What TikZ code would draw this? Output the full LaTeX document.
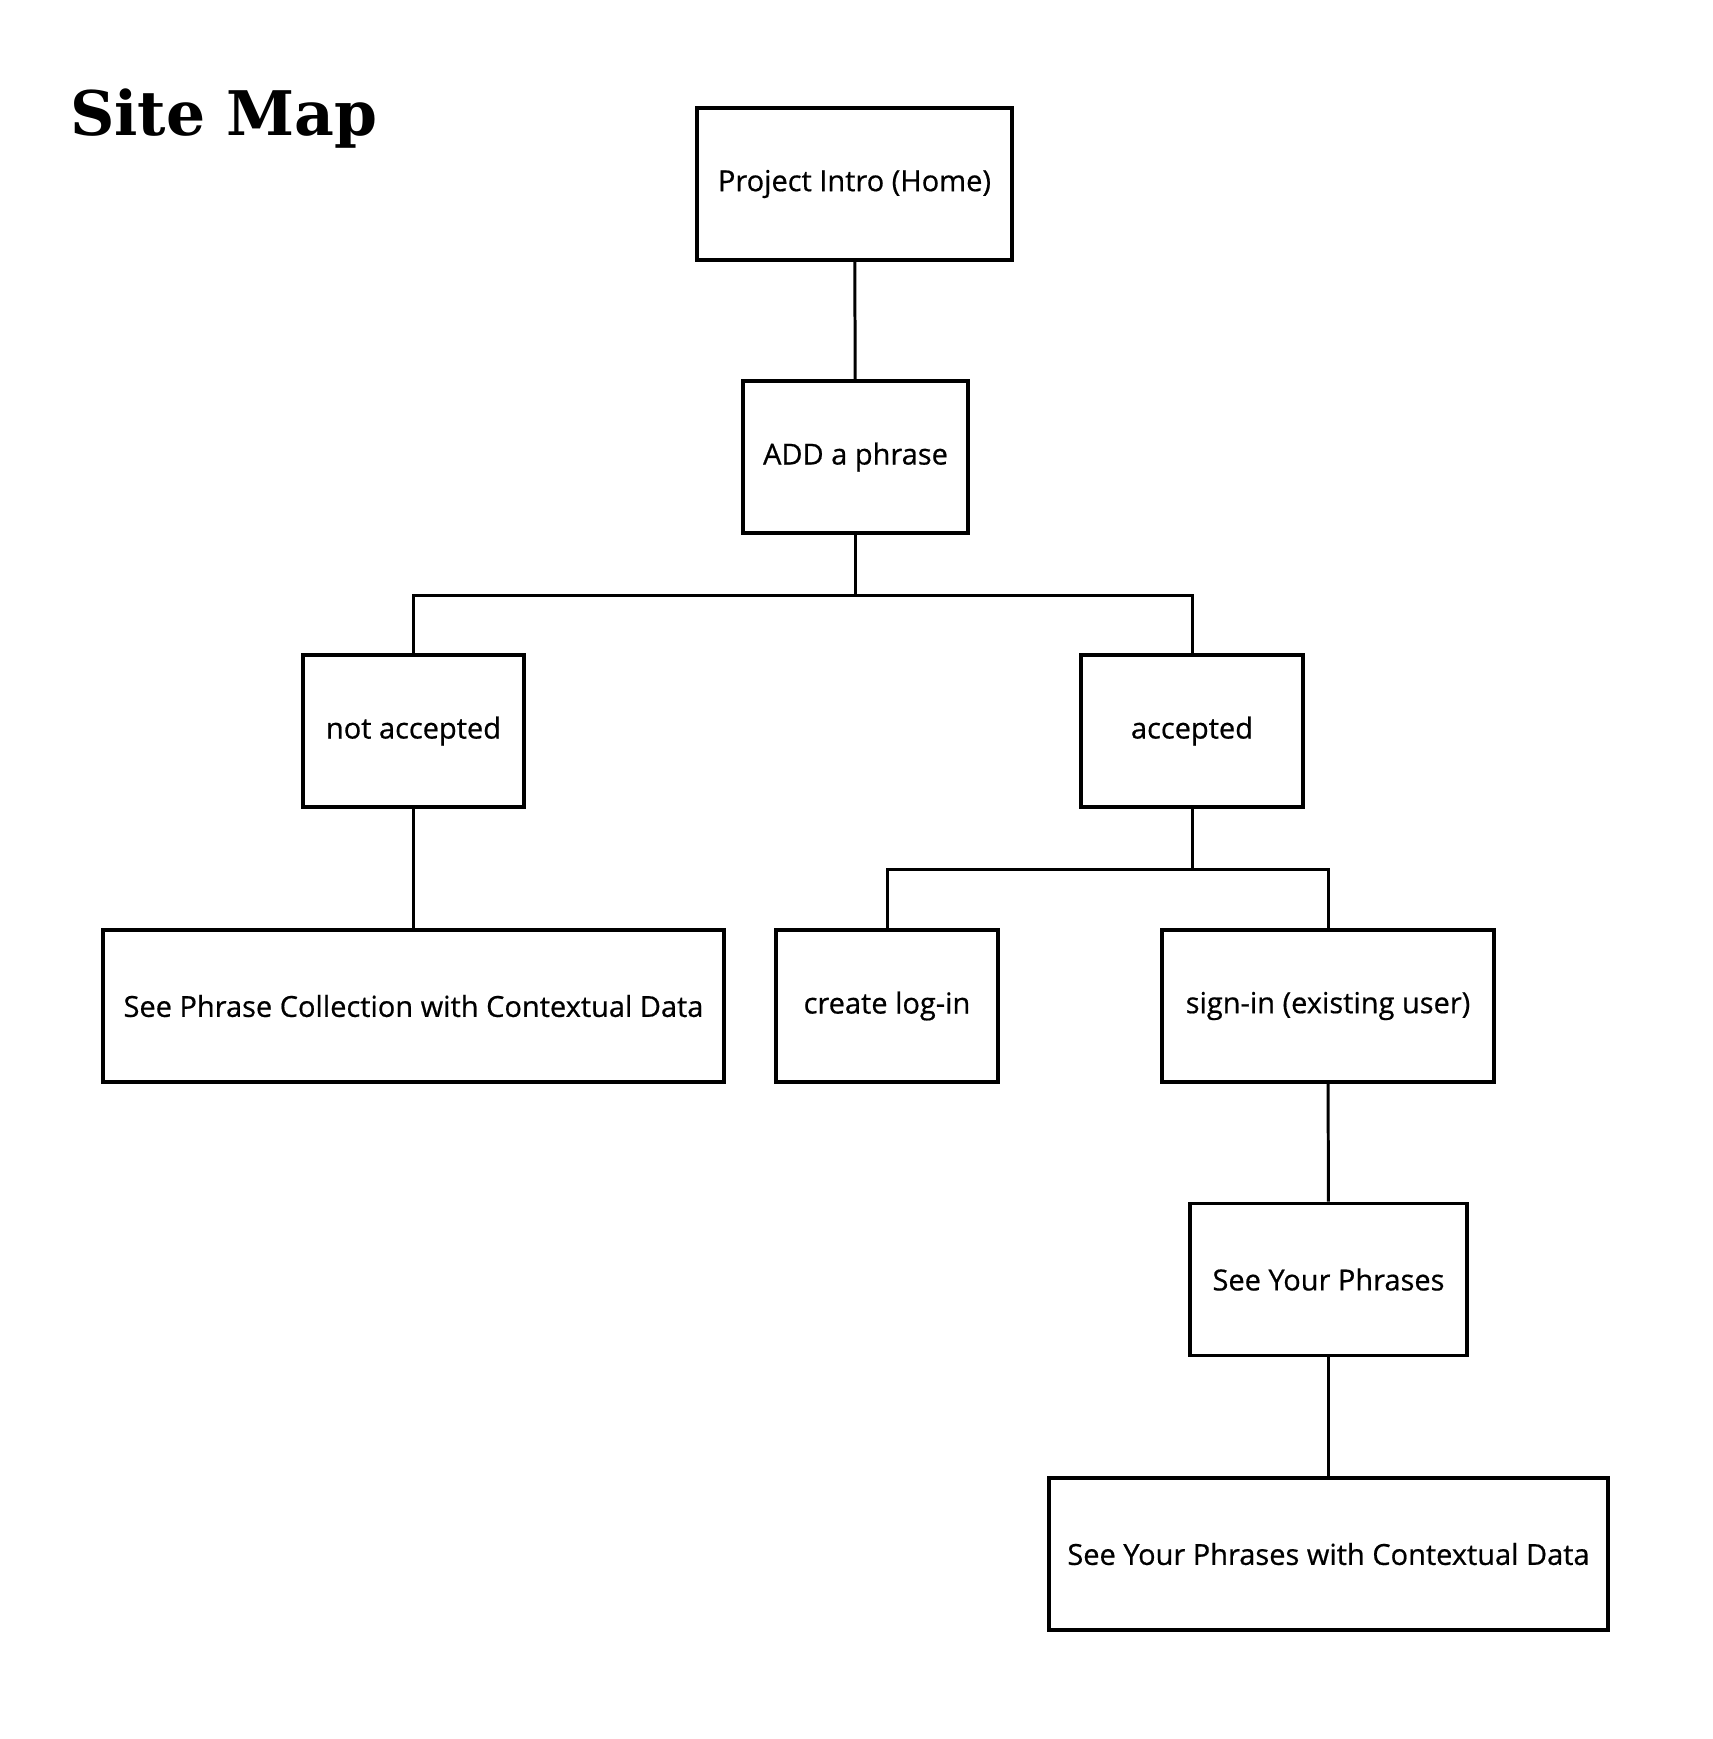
\documentclass[tikz,border=0pt]{standalone}
\usepackage{fontspec}
\setmainfont{Open Sans}
\newfontfamily\boxfont{Open Sans}[FakeBold=0.6]
\newfontfamily\titlefont{DejaVu Serif}
\usetikzlibrary{positioning}
\tikzset{
  page/.style={draw, line width=2.2pt, minimum height=3.04cm, inner sep=0pt,
    font=\boxfont\fontsize{16.5}{19}\selectfont},
  link/.style={line width=1.7pt}
}
\begin{document}
\begin{tikzpicture}[x=0.02cm, y=-0.02cm]
  \useasboundingbox (0,0) rectangle (1712,1739);
  \node[anchor=base west, font=\titlefont\bfseries\fontsize{35}{38}\selectfont] (title) at (64,135) {Site Map};
  % pages
  \node[page, minimum width=6.3cm] (home) at (854.5,184) {Project Intro (Home)};
  \node[page, minimum width=4.5cm] (add) at (855.5,457) {ADD a phrase};
  \node[page, minimum width=4.42cm] (notacc) at (413.5,731) {not accepted};
  \node[page, minimum width=4.44cm] (acc) at (1192,731) {accepted};
  \node[page, minimum width=12.42cm] (collection) at (413.5,1006) {See Phrase Collection with Contextual Data};
  \node[page, minimum width=4.44cm] (login) at (887,1006) {create log-in};
  \node[page, minimum width=6.64cm] (signin) at (1328,1006) {sign-in (existing user)};
  \node[page, minimum width=5.54cm] (yours) at (1328.5,1279.5) {See Your Phrases};
  \node[page, minimum width=11.18cm] (yourscontext) at (1328.5,1554) {See Your Phrases with Contextual Data};
  % links
  \coordinate (split1) at (855.5,595);
  \coordinate (split2) at (1192,869);
  \draw[link] (home) -- (add);
  \draw[link] (add.south) -- (split1);
  \draw[link] (notacc.north) |- (split1) -| (acc.north);
  \draw[link] (notacc) -- (collection);
  \draw[link] (acc.south) -- (split2);
  \draw[link] (login.north) |- (split2) -| (signin.north);
  \draw[link] (signin) -- (yours);
  \draw[link] (yours) -- (yourscontext);
\end{tikzpicture}
\end{document}
